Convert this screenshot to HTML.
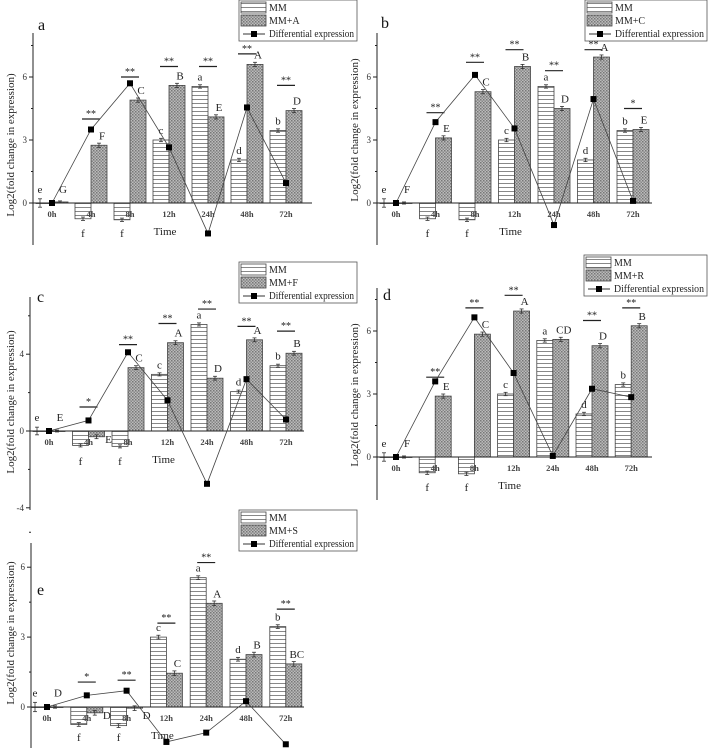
<!DOCTYPE html>
<html><head><meta charset="utf-8">
<style>
html,body{margin:0;padding:0;background:#fff;}
svg{display:block;font-family:"Liberation Serif",serif;}
</style></head>
<body>
<svg id="fig" width="708" height="756" viewBox="0 0 708 756">
<defs>
<pattern id="hlines" width="6" height="4" patternUnits="userSpaceOnUse">
<rect width="6" height="4" fill="#fff"/><line x1="0" y1="3.5" x2="6" y2="3.5" stroke="#888" stroke-width="1"/>
</pattern>
<pattern id="dots" width="3" height="3" patternUnits="userSpaceOnUse">
<rect width="3" height="3" fill="#bbb"/><rect width="1.5" height="1.5" fill="#777"/><rect x="1.5" y="1.5" width="1.5" height="1.5" fill="#888"/>
</pattern>
</defs>
</svg>
<script>
// ---- data ----
const categories = ["0h","4h","8h","12h","24h","48h","72h"];
const mmLetters = ["e","f","f","c","a","d","b"];
const mmA = [0,-0.75,-0.8,3.0,5.55,2.05,3.45];
const mmxA = [0.05,2.75,4.9,5.6,4.1,6.6,4.4];
const diffA = [0,3.5,5.7,2.65,-1.45,4.55,0.95];
const lettersA = ["G","F","C","B","E","A","D"];
const sigA = [null,4.0,6.0,6.5,6.5,7.1,5.6];
const starsA = ["","**","**","**","**","**","**"];
const mmB = [0,-0.75,-0.8,3.0,5.55,2.05,3.45];
const mmxB = [0,3.1,5.3,6.5,4.5,6.95,3.5];
const diffB = [0,3.85,6.1,3.55,-1.05,4.95,0.1];
const lettersB = ["F","E","C","B","D","A","E"];
const sigB = [null,4.3,6.7,7.3,6.3,7.3,4.5];
const starsB = ["","**","**","**","**","**","*"];
const mmC = [0,-0.75,-0.8,2.95,5.55,2.05,3.4];
const mmxC = [0,-0.3,3.3,4.6,2.75,4.75,4.05];
const diffC = [0,0.55,4.1,1.6,-2.75,2.7,0.6];
const lettersC = ["E","E","C","A","D","A","B"];
const sigC = [null,1.25,4.5,5.6,6.35,5.45,5.2];
const starsC = ["","*","**","**","**","**","**"];
const mmD = [0,-0.75,-0.8,3.0,5.55,2.05,3.45];
const mmxD = [0,2.9,5.85,6.95,5.6,5.3,6.25];
const diffD = [0,3.6,6.65,4.0,0.05,3.25,2.85];
const lettersD = ["F","E","C","A","CD","D","B"];
const sigD = [null,3.8,7.1,7.7,null,6.5,7.1];
const starsD = ["","**","**","**","","**","**"];
const mmE = [0,-0.75,-0.8,3.0,5.55,2.05,3.45];
const mmxE = [0,-0.25,-0.05,1.45,4.45,2.25,1.85];
const diffE = [0,0.5,0.7,-1.5,-1.1,0.25,-1.6];
const lettersE = ["D","D","D","C","A","B","BC"];
const sigE = [null,1.07,1.15,3.6,6.2,null,4.2];
const starsE = ["","*","**","**","**","","**"];
const ticksABDE = [0,3,6];
const ticksC = [-4,0,4];

const svg = document.getElementById('fig');
const NS = "http://www.w3.org/2000/svg";
function mk(tag, attrs, parent, text){
  const e = document.createElementNS(NS, tag);
  for (const k in attrs) e.setAttribute(k, attrs[k]);
  if (text !== undefined) e.textContent = text;
  (parent||svg).appendChild(e);
  return e;
}

function panel(id, L, mm, mmx, diff, letters, sig, stars, ticks, treatName){
  const g = mk('g', {});
  
  
  const yS = v => L.y0 - v * L.ppu;
  const xS = i => L.cx0 + i * L.step;
  const ya = mk('line', {x1:L.ax, y1:L.top, x2:L.ax, y2:L.bot, stroke:'#222', 'stroke-width':1}, g);
  
  
  ticks.forEach(t => {
    mk('line', {x1:L.ax-4, y1:yS(t), x2:L.ax, y2:yS(t), stroke:'#222'}, g);
    mk('line', {x1:L.ax-2, y1:yS(t+(ticks[1]-ticks[0])/2), x2:L.ax, y2:yS(t+(ticks[1]-ticks[0])/2), stroke:'#222'}, g);
    const tl = mk('text', {x:L.ax-6, y:yS(t)+3, 'font-size':9, 'text-anchor':'end', fill:'#333'}, g, String(t));
    
    
  });
  const yt = mk('text', {x:0, y:0, 'font-size':11, 'text-anchor':'middle', fill:'#222',
    transform:`translate(${L.ytx},${L.yty}) rotate(-90)`}, g, 'Log2(fold change in expression)');
  
  
  const pl = mk('text', {x:L.lx, y:L.ly, 'font-size':16, fill:'#111'}, g, id);
  
  
  categories.forEach((c, i) => {
    const cx = xS(i), w = 16;
    const v1 = mm[i], v2 = mmx[i];
    const b1 = mk('rect', {x:cx-w, y:Math.min(yS(v1), L.y0), width:w, height:Math.max(Math.abs(yS(v1)-L.y0),0.5), fill:'url(#hlines)', stroke:'#444', 'stroke-width':0.8}, g);
    
    
    const b2 = mk('rect', {x:cx, y:Math.min(yS(v2), L.y0), width:w, height:Math.max(Math.abs(yS(v2)-L.y0),0.5), fill:'url(#dots)', stroke:'#444', 'stroke-width':0.8}, g);
    
    
    const e1 = (i===0)?0.2:0.08, e2 = (i===0)?0.05:0.1;
    [[cx-w/2 - (i===0?4:0), v1, e1], [cx+w/2, v2, e2]].forEach(([ex, v, e]) => {
      mk('line', {x1:ex, y1:yS(v+e), x2:ex, y2:yS(v-e), stroke:'#333', 'stroke-width':0.8}, g);
      mk('line', {x1:ex-2, y1:yS(v+e), x2:ex+2, y2:yS(v+e), stroke:'#333', 'stroke-width':0.8}, g);
      mk('line', {x1:ex-2, y1:yS(v-e), x2:ex+2, y2:yS(v-e), stroke:'#333', 'stroke-width':0.8}, g);
    });
    const ly1 = v1 < 0 ? L.y0 + 34 : yS(Math.max(v1,0.2)) - 6;
    const t1 = mk('text', {x:cx-w/2 - (i===0?4:0), y:ly1, 'font-size':11, 'text-anchor':'middle', fill:'#222'}, g, mmLetters[i]);
    
    
    const ly2 = v2 < 0 ? L.y0 + 12 : yS(Math.max(v2,0.2)) - 6;
    const t2 = mk('text', {x:v2<0?cx+w+4:cx+w/2+3, y:ly2, 'font-size':11, 'text-anchor':'middle', fill:'#222'}, g, letters[i]);
    
    
    if (sig[i] !== null) {
      mk('line', {x1:cx-9, y1:yS(sig[i]), x2:cx+9, y2:yS(sig[i]), stroke:'#222', 'stroke-width':1.2}, g);
      const st = mk('text', {x:cx, y:yS(sig[i])-2, 'font-size':10, 'text-anchor':'middle', fill:'#222'}, g, stars[i]);
      
      
    }
    const xl = mk('text', {x:cx, y:L.y0+14, 'font-size':8.5, 'font-weight':'bold', 'text-anchor':'middle', fill:'#444'}, g, c);
    
    
  });
  const xa = mk('line', {x1:L.ax, y1:L.y0, x2:L.xEnd, y2:L.y0, stroke:'#222', 'stroke-width':1}, g);
  
  
  const xt = mk('text', {x:xS(3)-4, y:L.y0+32, 'font-size':11, 'text-anchor':'middle', fill:'#222'}, g, 'Time');
  
  
  const pts = diff.map((v, i) => xS(i) + ',' + yS(v)).join(' ');
  const pline = mk('polyline', {points:pts, fill:'none', stroke:'#444', 'stroke-width':0.8}, g);
  
  
  diff.forEach((v, i) => {
    const p = mk('rect', {x:xS(i)-3, y:yS(v)-3, width:6, height:6, fill:'#000'}, g);
    
    
  });
  const lg = mk('g', {}, g);
  
  
  mk('rect', {x:L.gx, y:L.gy, width:L.gw, height:41, fill:'#fff', stroke:'#555', 'stroke-width':0.8}, lg);
  mk('rect', {x:L.gx+2, y:L.gy+2, width:25, height:11, fill:'url(#hlines)', stroke:'#444', 'stroke-width':0.8}, lg);
  mk('rect', {x:L.gx+2, y:L.gy+15, width:25, height:11, fill:'url(#dots)', stroke:'#444', 'stroke-width':0.8}, lg);
  mk('line', {x1:L.gx+4, y1:L.gy+34, x2:L.gx+26, y2:L.gy+34, stroke:'#333'}, lg);
  mk('rect', {x:L.gx+12, y:L.gy+31, width:6, height:6, fill:'#000'}, lg);
  const e1 = mk('text', {x:L.gx+30, y:L.gy+11, 'font-size':10, fill:'#222'}, lg, 'MM');
  
  
  const e2 = mk('text', {x:L.gx+30, y:L.gy+24, 'font-size':10, fill:'#222'}, lg, treatName);
  
  
  const e3 = mk('text', {x:L.gx+30, y:L.gy+37, 'font-size':10, fill:'#222', textLength:L.gw-33, lengthAdjust:'spacingAndGlyphs'}, lg, 'Differential expression');
  
  
}

panel('a', {ax:33,y0:203,ppu:21,cx0:52,step:39,top:33,bot:245,xEnd:312,ytx:14,yty:145,lx:38,ly:30,gx:239,gy:0,gw:118}, mmA, mmxA, diffA, lettersA, sigA, starsA, ticksABDE, 'MM+A');
panel('b', {ax:377,y0:203,ppu:21,cx0:396,step:39.5,top:33,bot:245,xEnd:652,ytx:358,yty:130,lx:381,ly:28,gx:585,gy:0,gw:122}, mmB, mmxB, diffB, lettersB, sigB, starsB, ticksABDE, 'MM+C');
panel('c', {ax:30,y0:431,ppu:19.2,cx0:49,step:39.5,top:297,bot:510,xEnd:304,ytx:14,yty:402,lx:37,ly:302,gx:239,gy:262,gw:118}, mmC, mmxC, diffC, lettersC, sigC, starsC, ticksC, 'MM+F');
panel('d', {ax:377,y0:457,ppu:21,cx0:396,step:39.2,top:288,bot:500,xEnd:652,ytx:358,yty:395,lx:383,ly:300,gx:584,gy:255,gw:123}, mmD, mmxD, diffD, lettersD, sigD, starsD, ticksABDE, 'MM+R');
panel('e', {ax:31,y0:707,ppu:23.3,cx0:47,step:39.8,top:543,bot:748,xEnd:304,ytx:14,yty:633,lx:37,ly:595,gx:239,gy:510,gw:118}, mmE, mmxE, diffE, lettersE, sigE, starsE, ticksABDE, 'MM+S');
</script>
</body></html>
